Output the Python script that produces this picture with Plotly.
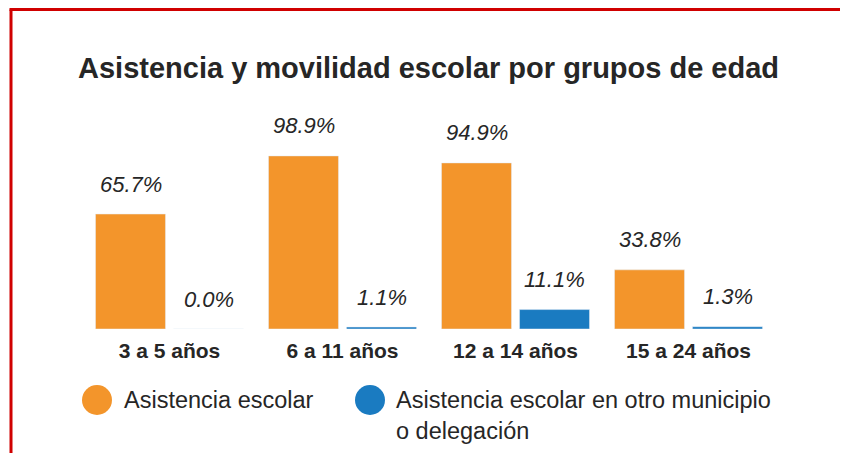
import plotly.graph_objects as go

# data
grupos = ["3 a 5 años", "6 a 11 años", "12 a 14 años", "15 a 24 años"]
asistencia = [65.7, 98.9, 94.9, 33.8]
otro_municipio = [0.0, 1.1, 11.1, 1.3]

naranja = "#F3952B"
azul = "#1A7BC1"
texto = "#262626"
fuente = "Liberation Sans, Arial, sans-serif"

# page has an 8px body margin, keep the figure inside the window
W, H = 832, 445
L, R, T, B = 75, 65, 146, 124
pw, ph = W - L - R, H - T - B


def px(x):
    # page pixel -> paper x
    return (x - 8 - L) / pw


def py(y):
    # page pixel -> paper y
    return (H - B - (y - 8)) / ph


fig = go.Figure()

fig.add_trace(go.Bar(x=grupos, y=asistencia, marker_color=naranja,
                     name="Asistencia escolar"))
fig.add_trace(go.Bar(x=grupos, y=otro_municipio, marker_color=azul,
                     name="Asistencia escolar en otro municipio o delegación"))

annotations = []
for g, a, o in zip(grupos, asistencia, otro_municipio):
    for val, shift in ((a, -39), (o, 39)):
        annotations.append(dict(
            x=g, y=val, xref="x", yref="y", xshift=shift, yshift=30,
            text=f"{val:.1f}%", showarrow=False,
            xanchor="center", yanchor="middle",
            font=dict(family=fuente, size=22, color=texto, style="italic"),
        ))

# title
annotations.append(dict(
    x=px(428), y=py(68), xref="paper", yref="paper", showarrow=False,
    xanchor="center", yanchor="middle",
    text="Asistencia y movilidad escolar por grupos de edad",
    font=dict(family=fuente, size=29, color=texto, weight="bold"),
))

# manual legend (round swatches)
annotations.append(dict(
    x=px(122), y=py(400), xref="paper", yref="paper", showarrow=False,
    xanchor="left", yanchor="middle", text="Asistencia escolar",
    font=dict(family=fuente, size=23.5, color=texto),
))
annotations.append(dict(
    x=px(394), y=py(415), xref="paper", yref="paper", showarrow=False,
    xanchor="left", yanchor="middle", align="left",
    text="Asistencia escolar en otro municipio<br>o delegación",
    font=dict(family=fuente, size=23.5, color=texto),
))

shapes = []
for cx, col in ((97, naranja), (370, azul)):
    shapes.append(dict(
        type="circle", xref="paper", yref="paper",
        xsizemode="pixel", ysizemode="pixel",
        xanchor=px(cx), yanchor=py(400),
        x0=-15, x1=15, y0=-15, y1=15,
        fillcolor=col, line_width=0,
    ))

# red frame (left and top)
shapes.append(dict(type="line", xref="paper", yref="paper",
                   x0=px(11), x1=px(11), y0=py(9.5), y1=py(453),
                   line=dict(color="#D00000", width=3)))
shapes.append(dict(type="line", xref="paper", yref="paper",
                   x0=px(9.5), x1=px(840), y0=py(9.5), y1=py(9.5),
                   line=dict(color="#D00000", width=3)))

fig.update_layout(
    width=W, height=H,
    margin=dict(l=L, r=R, t=T, b=B, pad=0),
    paper_bgcolor="white", plot_bgcolor="white",
    barmode="group", bargap=0.098, bargroupgap=0.103,
    annotations=annotations, shapes=shapes,
    xaxis=dict(range=[-0.5, 3.5], showgrid=False, showline=False,
               zeroline=False, ticks="", ticklabelstandoff=7,
               tickfont=dict(family=fuente, size=21, color=texto,
                             weight="bold")),
    yaxis=dict(range=[0, 100], visible=False),
    showlegend=False,
)

fig.write_html("out.html")
